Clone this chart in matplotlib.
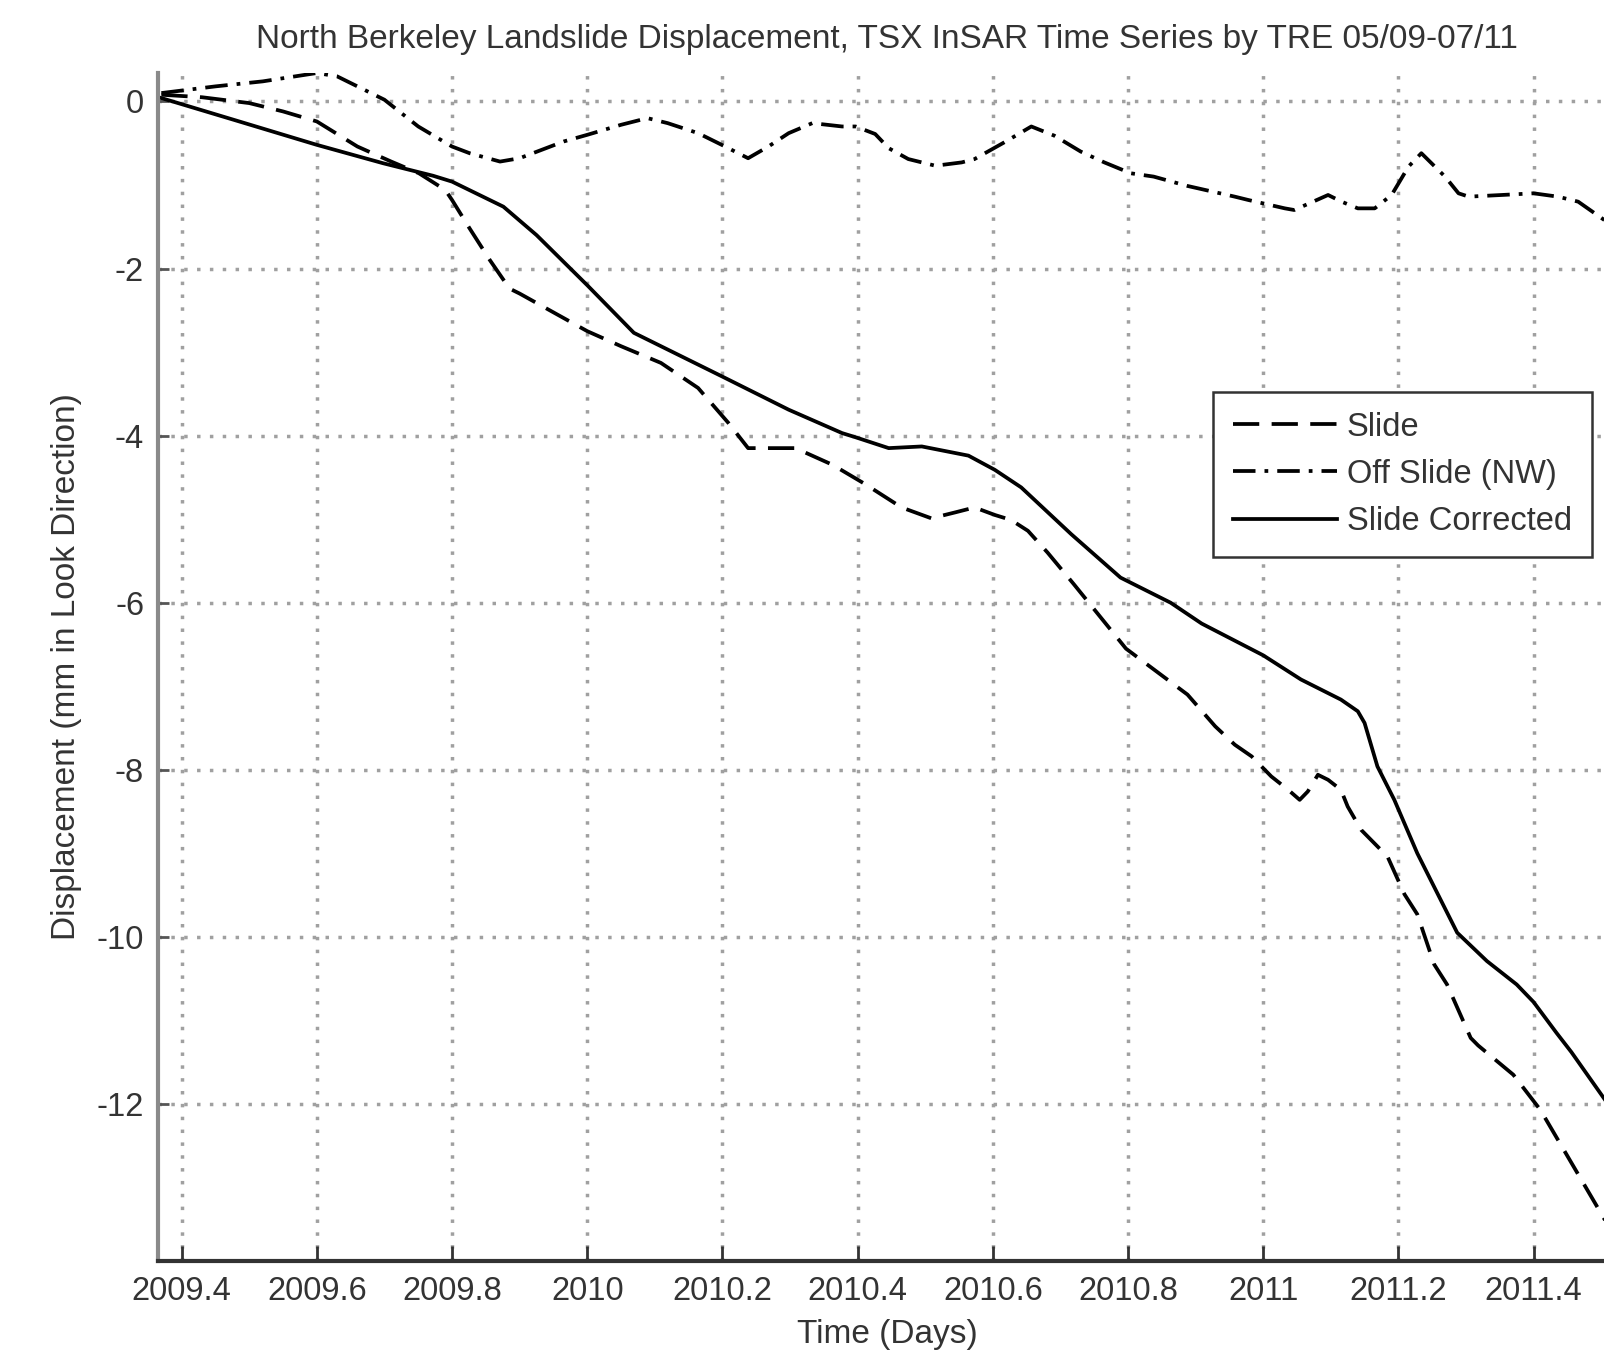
import matplotlib.pyplot as plt

plt.rcParams['font.family'] = ['Liberation Sans', 'DejaVu Sans']
plt.rcParams['axes.unicode_minus'] = False

# TSX InSAR time series, displacement in mm (look direction), time in decimal years
slide_t = [2009.37, 2009.43, 2009.50, 2009.55, 2009.60, 2009.66, 2009.71, 2009.751,
           2009.79, 2009.80, 2009.826, 2009.856, 2009.885, 2009.90, 2010.0, 2010.05,
           2010.109, 2010.164, 2010.209, 2010.238, 2010.308, 2010.363, 2010.411, 2010.465,
           2010.509, 2010.544, 2010.573, 2010.603, 2010.627, 2010.652, 2010.681, 2010.72,
           2010.797, 2010.888, 2010.929, 2010.958, 2010.983, 2011.012, 2011.037, 2011.054,
           2011.066, 2011.081, 2011.096, 2011.115, 2011.125, 2011.145, 2011.184, 2011.209,
           2011.228, 2011.253, 2011.272, 2011.307, 2011.318, 2011.37, 2011.41, 2011.51]
slide_mm = [0.08, 0.05, -0.02, -0.12, -0.24, -0.54, -0.72, -0.86,
            -1.06, -1.18, -1.52, -1.90, -2.24, -2.30, -2.75, -2.93,
            -3.13, -3.43, -3.85, -4.15, -4.15, -4.35, -4.58, -4.86,
            -4.99, -4.92, -4.86, -4.95, -5.01, -5.14, -5.40, -5.78,
            -6.55, -7.10, -7.48, -7.70, -7.84, -8.08, -8.24, -8.36,
            -8.26, -8.06, -8.12, -8.24, -8.44, -8.72, -9.04, -9.49,
            -9.73, -10.33, -10.57, -11.21, -11.30, -11.65, -12.07, -13.45]

off_t = [2009.37, 2009.45, 2009.52, 2009.60, 2009.63, 2009.70, 2009.75, 2009.80,
         2009.826, 2009.871, 2009.90, 2009.965, 2010.0, 2010.05, 2010.089, 2010.119,
         2010.164, 2010.204, 2010.238, 2010.268, 2010.298, 2010.333, 2010.377, 2010.397,
         2010.426, 2010.446, 2010.475, 2010.515, 2010.554, 2010.573, 2010.617, 2010.657,
         2010.691, 2010.73, 2010.765, 2010.804, 2010.838, 2010.887, 2010.958, 2010.978,
         2011.032, 2011.046, 2011.096, 2011.116, 2011.14, 2011.165, 2011.19, 2011.215,
         2011.234, 2011.249, 2011.269, 2011.289, 2011.304, 2011.353, 2011.40, 2011.436,
         2011.466, 2011.51]
off_mm = [0.10, 0.18, 0.24, 0.34, 0.30, 0.02, -0.30, -0.54,
          -0.62, -0.72, -0.68, -0.48, -0.40, -0.28, -0.20, -0.26,
          -0.38, -0.54, -0.68, -0.54, -0.38, -0.26, -0.30, -0.30,
          -0.39, -0.56, -0.69, -0.77, -0.73, -0.69, -0.49, -0.30,
          -0.41, -0.60, -0.73, -0.86, -0.90, -1.01, -1.14, -1.18,
          -1.28, -1.30, -1.12, -1.20, -1.28, -1.28, -1.12, -0.78,
          -0.62, -0.74, -0.90, -1.10, -1.14, -1.12, -1.10, -1.14,
          -1.20, -1.45]

corr_t = [2009.37, 2009.477, 2009.60, 2009.698, 2009.772, 2009.80, 2009.876, 2009.925,
          2010.0, 2010.069, 2010.149, 2010.199, 2010.298, 2010.377, 2010.397, 2010.446,
          2010.495, 2010.564, 2010.603, 2010.642, 2010.716, 2010.789, 2010.863, 2010.909,
          2011.0, 2011.056, 2011.115, 2011.14, 2011.15, 2011.169, 2011.194, 2011.228,
          2011.287, 2011.331, 2011.375, 2011.40, 2011.434, 2011.456, 2011.51]
corr_mm = [0.04, -0.22, -0.52, -0.74, -0.89, -0.96, -1.26, -1.60,
           -2.20, -2.77, -3.09, -3.29, -3.69, -3.97, -4.02, -4.15,
           -4.13, -4.24, -4.41, -4.62, -5.18, -5.70, -6.00, -6.25,
           -6.63, -6.92, -7.16, -7.30, -7.44, -7.96, -8.36, -9.00,
           -9.95, -10.29, -10.57, -10.78, -11.15, -11.38, -12.00]

xticks = [2009.4, 2009.6, 2009.8, 2010, 2010.2, 2010.4, 2010.6, 2010.8, 2011, 2011.2, 2011.4]
xticklabels = ['2009.4', '2009.6', '2009.8', '2010', '2010.2', '2010.4', '2010.6',
               '2010.8', '2011', '2011.2', '2011.4']
yticks = [0, -2, -4, -6, -8, -10, -12]

fig = plt.figure(figsize=(16.04, 13.52), dpi=100)
ax = fig.add_axes([0.0985, 0.0673, 0.909, 0.8787])

lw = 2.7
ax.plot(slide_t, slide_mm, color='black', lw=lw, linestyle=(0, (7, 3.3)), label='Slide')
ax.plot(off_t, off_mm, color='black', lw=lw, linestyle=(0, (6, 2.4, 1, 2.4)),
        label='Off Slide (NW)')
ax.plot(corr_t, corr_mm, color='black', lw=lw, linestyle='-', label='Slide Corrected')

ax.set_xlim(2009.365, 2011.522)
ax.set_ylim(-13.88, 0.34)
ax.set_xticks(xticks)
ax.set_xticklabels(xticklabels)
ax.set_yticks(yticks)

ax.grid(True, color='#a0a0a0', linestyle=(0, (1, 2.7)), linewidth=2.5)
ax.set_axisbelow(True)

ax.spines['top'].set_visible(False)
ax.spines['right'].set_visible(False)
ax.spines['left'].set_color('#8a8a8a')
ax.spines['left'].set_linewidth(3)
ax.spines['bottom'].set_color('#333333')
ax.spines['bottom'].set_linewidth(3)

ax.tick_params(axis='x', direction='in', length=11, width=2, color='#333333',
               labelsize=23.5, labelcolor='#333333', pad=11)
ax.tick_params(axis='y', direction='in', length=8, width=2, color='#555555',
               labelsize=23.5, labelcolor='#333333', pad=10)

ax.set_title('North Berkeley Landslide Displacement, TSX InSAR Time Series by TRE 05/09-07/11',
             fontsize=24, color='#333333', pad=18)
ax.set_xlabel('Time (Days)', fontsize=24, color='#333333')
ax.set_ylabel('Displacement (mm in Look Direction)', fontsize=24, color='#333333')
ax.xaxis.set_label_coords(0.5, -0.049)
ax.yaxis.set_label_coords(-0.052, 0.5)

leg = ax.legend(loc='upper left', bbox_to_anchor=(1213 / 1604, 1 - 392 / 1352),
                bbox_transform=fig.transFigure, borderaxespad=0, fontsize=23.5,
                handlelength=3.2, handletextpad=0.3, borderpad=0.6, labelspacing=0.5,
                fancybox=False, framealpha=1)
leg.get_frame().set_edgecolor('#333333')
leg.get_frame().set_linewidth(1.8)
for t in leg.get_texts():
    t.set_color('#333333')

plt.savefig('out.png', dpi=100)
